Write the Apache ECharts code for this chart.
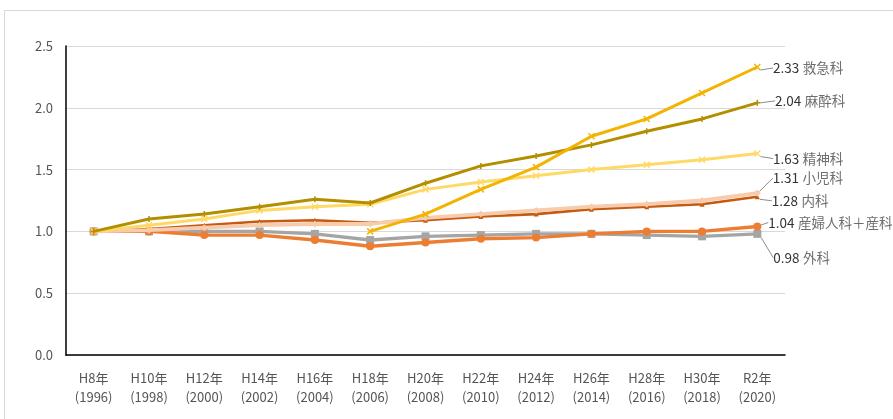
<!DOCTYPE html>
<html>
<head>
<meta charset="utf-8">
<script src="https://cdn.jsdelivr.net/npm/echarts@6/dist/echarts.min.js"></script>
<style>
html,body{margin:0;padding:0;background:#fff;}
#frame{position:absolute;left:4px;top:10px;width:900px;height:420px;border:1px solid #d9d9d9;box-sizing:border-box;}
#chart{position:absolute;left:0;top:0;width:893px;height:419px;}
</style>
</head>
<body>
<div id="frame"></div>
<div id="chart"></div>
<script>
const categories = ['H8年\n(1996)','H10年\n(1998)','H12年\n(2000)','H14年\n(2002)','H16年\n(2004)','H18年\n(2006)','H20年\n(2008)','H22年\n(2010)','H24年\n(2012)','H26年\n(2014)','H28年\n(2016)','H30年\n(2018)','R2年\n(2020)'];
const yTicks = [0, 0.5, 1.0, 1.5, 2.0, 2.5];

const kyukyu   = [null, null, null, null, null, 1.00, 1.14, 1.34, 1.52, 1.77, 1.91, 2.12, 2.33];
const masui    = [1.00, 1.10, 1.14, 1.20, 1.26, 1.23, 1.39, 1.53, 1.61, 1.70, 1.81, 1.91, 2.04];
const seishin  = [1.00, 1.05, 1.10, 1.17, 1.20, 1.22, 1.34, 1.40, 1.45, 1.50, 1.54, 1.58, 1.63];
const shoni    = [1.00, 1.01, 1.03, 1.05, 1.06, 1.06, 1.11, 1.14, 1.17, 1.20, 1.22, 1.25, 1.31];
const naika    = [1.00, 1.02, 1.05, 1.08, 1.09, 1.07, 1.09, 1.12, 1.14, 1.18, 1.20, 1.22, 1.28];
const sanfujin = [1.00, 1.00, 0.97, 0.97, 0.93, 0.88, 0.91, 0.94, 0.95, 0.98, 1.00, 1.00, 1.04];
const geka     = [1.00, 1.00, 1.00, 1.00, 0.98, 0.93, 0.96, 0.97, 0.98, 0.98, 0.97, 0.96, 0.98];

const names = ['救急科','麻酔科','精神科','小児科','内科','産婦人科＋産科','外科'];
const endValues = ['2.33','2.04','1.63','1.31','1.28','1.04','0.98'];

const crossPath = 'path://M0,0L10,10M10,0L0,10';
const plusPath = 'path://M5,0L5,10M0,5L10,5';
const FONT = 'Noto Sans CJK JP';

function mk(name, data, color, width, symbol, size, idx, dx, dy) {
  const last = data.length - 1;
  return {
    name: name,
    type: 'line',
    data: data.map((v, i) => i === last ? {
      value: v,
      label: {
        show: true, position: 'right', distance: 12,
        formatter: '{v|' + endValues[idx] + '} {n|' + name + '}',
        rich: {
          v: {color: '#333333', fontSize: 13.5, fontFamily: FONT},
          n: {color: '#6e6e6e', fontSize: 13.5, fontFamily: FONT}
        }
      },
      labelLayout: {dx: dx, dy: dy}
    } : v),
    symbol: symbol,
    symbolSize: size,
    showAllSymbol: true,
    lineStyle: {color: color, width: width},
    itemStyle: {color: color, borderColor: color, borderWidth: (symbol.startsWith('path') ? 1.5 : 0)},
    labelLine: {show: true, lineStyle: {color: '#8c8c8c', width: 1}},
    labelLayout: {dx: dx, dy: dy},
    z: 10 - idx,
    animation: false
  };
}

const chart = echarts.init(document.getElementById('chart'));
chart.setOption({
  animation: false,
  grid: {left: 66, right: 108, top: 46, bottom: 64, containLabel: false},
  xAxis: {
    type: 'category',
    data: categories,
    boundaryGap: true,
    axisLine: {lineStyle: {color: '#000', width: 1.5}},
    axisTick: {show: false},
    axisLabel: {color: '#555555', fontSize: 13, lineHeight: 19, margin: 14, fontFamily: FONT}
  },
  yAxis: {
    type: 'value',
    min: yTicks[0], max: yTicks[yTicks.length - 1], interval: 0.5,
    axisLine: {show: true, lineStyle: {color: '#000', width: 1.5}},
    axisTick: {show: false},
    axisLabel: {color: '#555555', fontSize: 13, margin: 13, formatter: v => v.toFixed(1), fontFamily: FONT},
    splitLine: {lineStyle: {color: '#d9d9d9', width: 1}}
  },
  series: [
    mk(names[0], kyukyu, '#F2B400', 3, crossPath, 6, 0, 0, 1),
    mk(names[1], masui, '#B38F00', 3, plusPath, 6, 1, 2, -2),
    mk(names[2], seishin, '#FFD966', 3, crossPath, 6, 2, 0, 5),
    mk(names[3], shoni, '#F8CBAD', 3.8, 'diamond', 7, 3, 0, -15),
    mk(names[4], naika, '#C55A11', 2.6, 'triangle', 5, 4, 0, 4),
    mk(names[5], sanfujin, '#ED7D31', 3.4, 'circle', 8, 5, -5, -4),
    mk(names[6], geka, '#A5A5A5', 3.4, 'rect', 8, 6, 0, 24)
  ]
});
</script>
</body>
</html>
